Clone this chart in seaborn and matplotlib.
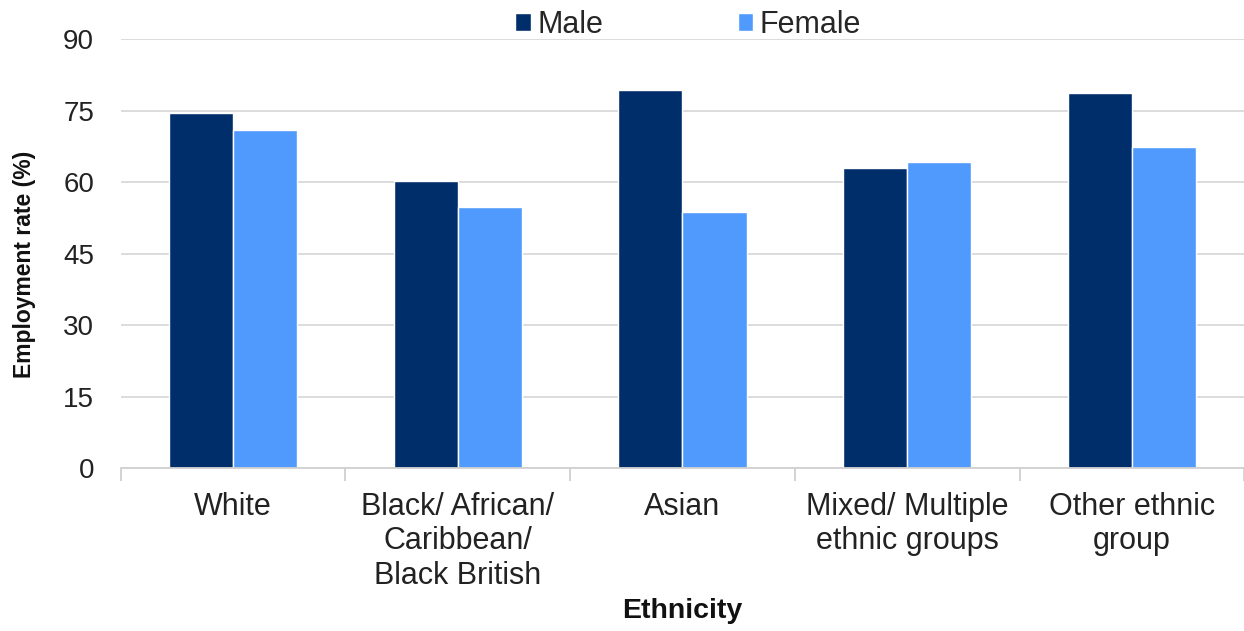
import matplotlib
matplotlib.use("Agg")
import matplotlib.pyplot as plt
import seaborn as sns
import pandas as pd
from matplotlib.ticker import FixedLocator

categories = ["White", "Black/ African/\nCaribbean/\nBlack British", "Asian",
              "Mixed/ Multiple\nethnic groups", "Other ethnic\ngroup"]
male = [74.5, 60.3, 79.4, 63.0, 78.8]
female = [71.0, 54.8, 53.8, 64.3, 67.3]
series = ["Male", "Female"]
yticks = [0, 15, 30, 45, 60, 75, 90]

df = pd.DataFrame({
    "Ethnicity": categories * 2,
    "Rate": male + female,
    "Sex": [series[0]] * len(categories) + [series[1]] * len(categories),
})

sns.set_theme(style="white")
plt.rcParams["font.family"] = ["Liberation Sans", "DejaVu Sans"]

fig = plt.figure(figsize=(12.44, 6.31), dpi=100)
ax = fig.add_axes([120.5 / 1244, 1 - 468 / 631, (1244.5 - 120.5) / 1244, (468 - 39.3) / 631])

sns.barplot(data=df, x="Ethnicity", y="Rate", hue="Sex", order=categories,
            hue_order=series, palette=["#002E6A", "#519AFD"], width=0.57,
            saturation=1, ax=ax, legend=True)

ax.set_ylim(0, 90)
ax.set_xlim(-0.5, len(categories) - 0.5)
ax.set_yticks(yticks)
ax.yaxis.grid(True, color="#D9D9D9", linewidth=1.3)
ax.set_axisbelow(True)
for s in ["left", "right", "top"]:
    ax.spines[s].set_visible(False)
ax.spines["bottom"].set_color("#D0D0D0")
ax.spines["bottom"].set_linewidth(1.3)

ax.tick_params(axis="y", labelsize=20, colors="#222222", length=0, pad=19)
ax.tick_params(axis="x", which="major", labelsize=22, colors="#222222", length=0, pad=17)
ax.xaxis.set_minor_locator(FixedLocator([i - 0.5 for i in range(len(categories) + 1)]))
ax.tick_params(axis="x", which="minor", length=9, width=1.3, color="#D0D0D0", bottom=True)

ax.set_ylabel("Employment rate (%)", fontsize=16.5, fontweight="bold", color="#111111")
ax.yaxis.set_label_coords((36 - 120.5) / 1124, 0.476)
ax.set_xlabel("Ethnicity", fontsize=20.5, fontweight="bold", labelpad=5, color="#111111")

leg = ax.legend(loc="lower center", bbox_to_anchor=(0.505, 0.97), ncol=2, frameon=False,
                fontsize=22, handlelength=0.52, handleheight=0.5, handletextpad=0.2,
                columnspacing=4.4, borderaxespad=0)

fig.savefig("out.png", dpi=100)
